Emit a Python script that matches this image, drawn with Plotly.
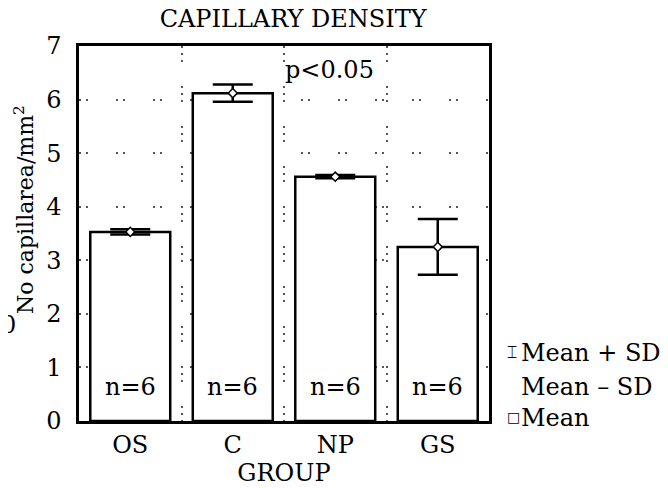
import plotly.graph_objects as go

groups = ["OS", "C", "NP", "GS"]
means = [3.53, 6.12, 4.56, 3.25]
sds = [0.05, 0.16, 0.03, 0.52]
n_values = [6, 6, 6, 6]
y_ticks = [0, 1, 2, 3, 4, 5, 6, 7]

FONT = "DejaVu Serif"
FS = 24

fig = go.Figure()
fig.add_trace(go.Bar(
    x=groups, y=means, width=0.78,
    marker=dict(color="white", line=dict(color="black", width=2.5)),
    error_y=dict(type="data", array=sds, color="black", thickness=2.5, width=20),
    showlegend=False, hoverinfo="skip",
))
fig.add_trace(go.Scatter(
    x=groups, y=means, mode="markers",
    marker=dict(symbol="diamond", size=7, color="white", line=dict(color="black", width=1.5)),
    showlegend=False, hoverinfo="skip",
))
# invisible trace to activate overlay axis for between-group grid lines
fig.add_trace(go.Scatter(x=[-0.5, 3.5], y=[0, 0], xaxis="x2", mode="markers",
                         marker=dict(opacity=0), showlegend=False, hoverinfo="skip"))

for g, n in zip(groups, n_values):
    fig.add_annotation(x=g, y=0.64, text=f"n={n}", showarrow=False,
                       font=dict(family=FONT, size=FS, color="black"))

fig.add_annotation(x=1.94, y=6.55, text="p<0.05", showarrow=False,
                   font=dict(family=FONT, size=FS, color="black"))

# legend-like text at right
leg_font = dict(family=FONT, size=FS, color="black")
legend_items = [("⌶", "Mean + SD", 0.181), ("", "Mean – SD", 0.0907), ("□", "Mean", 0.008)]
for sym, label, yy in legend_items:
    fig.add_annotation(xref="paper", yref="paper", x=1.072, y=yy, xanchor="left", yanchor="middle",
                       text=label, showarrow=False, font=leg_font)
    if sym:
        fig.add_annotation(xref="paper", yref="paper", x=1.040, y=yy + 0.004, xanchor="left",
                           yanchor="middle", text=sym, showarrow=False,
                           font=dict(family="DejaVu Sans", size=14 if sym == "□" else 17, color="black"))
# clipped stray glyph at far left
fig.add_annotation(xref="paper", yref="paper", x=-0.150, y=0.256, xanchor="right", yanchor="middle",
                   text="0", showarrow=False, font=leg_font)
# y-axis title
fig.add_annotation(xref="paper", yref="paper", x=-0.134, y=0.563, xanchor="center", yanchor="middle",
                   textangle=-90, text="No capillarea/mm<sup>2</sup>", showarrow=False,
                   font=dict(family=FONT, size=22, color="black"))

# page body has an 8px default margin: compensate so the plot lands where the reference has it
fig.update_layout(
    width=660, height=480,
    margin=dict(l=71, r=179, t=38, b=67),
    paper_bgcolor="white", plot_bgcolor="white",
    font=dict(family=FONT, size=FS, color="black"),
    title=dict(text="CAPILLARY DENSITY", x=0.432, xanchor="center", y=0.977, yanchor="middle",
               font=dict(family=FONT, size=FS, color="black")),
    bargap=0.22,
    xaxis=dict(
        type="category", range=[-0.5, 3.5], showgrid=False,
        showline=True, linecolor="black", linewidth=2.5, mirror=True,
        ticks="", tickfont=dict(family=FONT, size=FS),
        title=dict(text="GROUP", font=dict(family=FONT, size=FS), standoff=0),
    ),
    xaxis2=dict(
        overlaying="x", anchor="y", range=[-0.5, 3.5], tickvals=[0.5, 1.5, 2.5],
        showticklabels=False, showline=False, zeroline=False, ticks="",
        showgrid=True, gridcolor="#555", gridwidth=2,
        griddash="2px,5px,2px,5px,2px,24px",
    ),
    yaxis=dict(
        range=[0, 7], tickvals=y_ticks, showline=True, linecolor="black", linewidth=2.5,
        mirror=True, zeroline=False, ticks="", ticklabelstandoff=10,
        showgrid=True, gridcolor="#555", gridwidth=2, griddash="2px,5px,2px,28px",
        tickfont=dict(family=FONT, size=FS),
    ),
)

fig.write_html("out.html")
